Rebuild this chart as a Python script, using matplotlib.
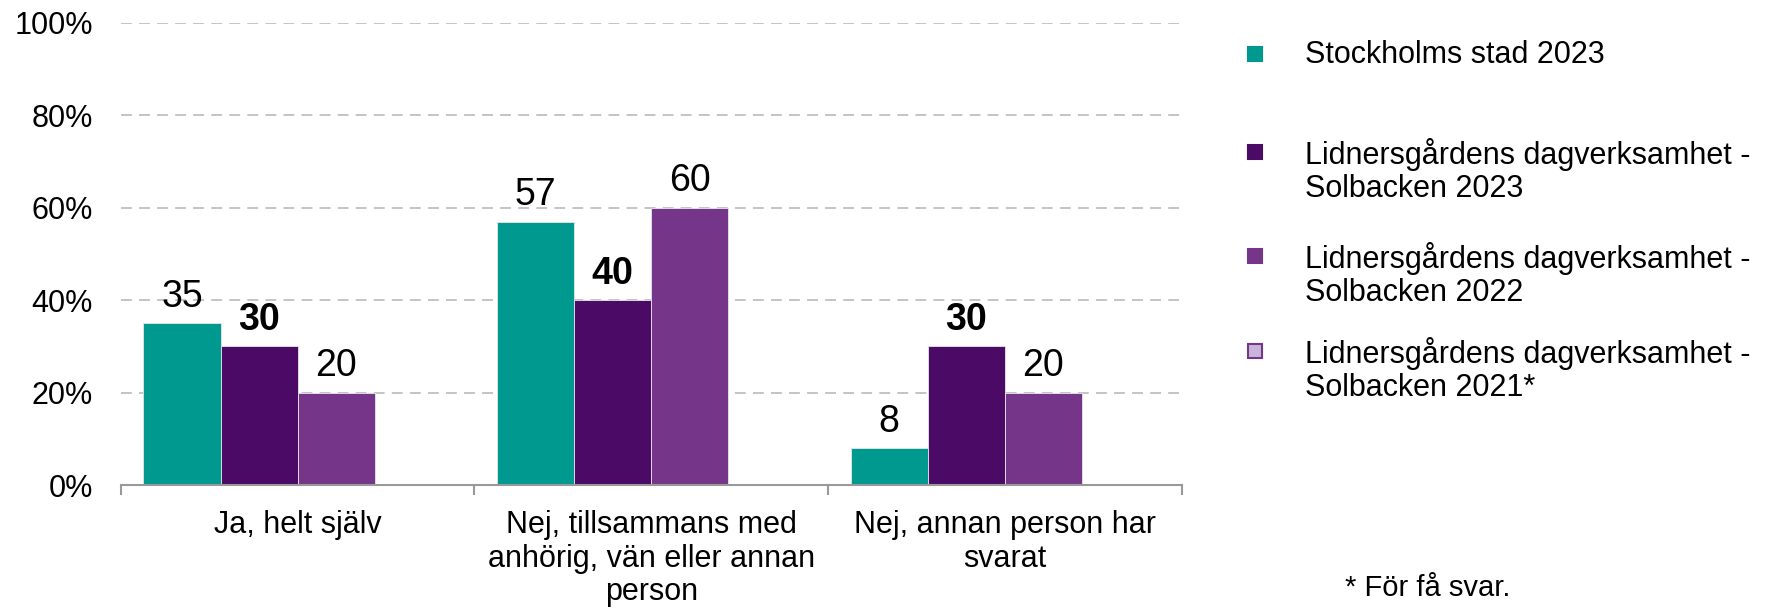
import numpy as np
import matplotlib.pyplot as plt
from matplotlib.patches import Rectangle

plt.rcParams['font.family'] = ['Liberation Sans', 'DejaVu Sans']

categories = ["Ja, helt själv",
              "Nej, tillsammans med\nanhörig, vän eller annan\nperson",
              "Nej, annan person har\nsvarat"]
series_names = ["Stockholms stad 2023",
                "Lidnersgårdens dagverksamhet -\nSolbacken 2023",
                "Lidnersgårdens dagverksamhet -\nSolbacken 2022",
                "Lidnersgårdens dagverksamhet -\nSolbacken 2021*"]
stockholm_2023 = [35, 57, 8]
solbacken_2023 = [30, 40, 30]
solbacken_2022 = [20, 60, 20]
solbacken_2021 = [None, None, None]  # too few answers

colors = ["#009990", "#4a0a66", "#75368a", "#c9b5da"]
series = [stockholm_2023, solbacken_2023, solbacken_2022, solbacken_2021]

fig = plt.figure(figsize=(17.77, 6.14), dpi=100)
ax = fig.add_axes([0.068, 0.21, 0.597, 0.753])

x = np.arange(len(categories))
w = 0.218
for i, vals in enumerate(series):
    if all(v is None for v in vals):
        continue
    pos = x + (i - 1.5) * w
    bars = ax.bar(pos, vals, width=w, color=colors[i], edgecolor="#e8e8e8",
                  linewidth=0.6, zorder=3)
    weight = "bold" if i == 1 else "normal"
    for b, v in zip(bars, vals):
        ax.annotate(str(v), (b.get_x() + b.get_width() / 2, v),
                    xytext=(0, 6), textcoords="offset points",
                    ha="center", va="bottom", fontsize=27, fontweight=weight)

ax.set_xlim(-0.5, 2.5)
ax.set_ylim(0, 100)
ax.set_yticks(range(0, 101, 20))
ax.set_yticklabels([f"{v}%" for v in range(0, 101, 20)])
ax.tick_params(axis="y", length=0, pad=20, labelsize=22)
ax.set_xticks(x)
ax.set_xticklabels(categories, linespacing=1.15)
ax.tick_params(axis="x", length=0, pad=18, labelsize=22)
ax.set_xticks([-0.5, 0.5, 1.5, 2.5], minor=True)
ax.tick_params(axis="x", which="minor", length=7, color="#999999", width=1.5)

for y in range(20, 101, 20):
    ax.axhline(y, color="#bfbfbf", linestyle=(0, (6, 4)), linewidth=1.3, zorder=1)

for s in ["top", "right", "left"]:
    ax.spines[s].set_visible(False)
ax.spines["bottom"].set_color("#999999")
ax.spines["bottom"].set_linewidth(1.5)
ax.spines["bottom"].set_zorder(4)

# legend, drawn by hand to keep the reference spacing
leg_y = [54, 152, 256, 351]
for i, (name, yy) in enumerate(zip(series_names, leg_y)):
    yf = 1 - yy / 614
    edge = "#75368a" if i == 3 else colors[i]
    fig.add_artist(Rectangle((1248 / 1777, yf - 7 / 614), 14 / 1777, 14 / 614,
                             facecolor=colors[i], edgecolor=edge, linewidth=1.5,
                             transform=fig.transFigure))
    fig.text(1305 / 1777, yf + 14 / 614, name, fontsize=22, va="top", ha="left",
             linespacing=1.15)

fig.text(1345 / 1777, 1 - 588 / 614, "* För få svar.", fontsize=21, va="center")

fig.savefig("out.png", dpi=100)
